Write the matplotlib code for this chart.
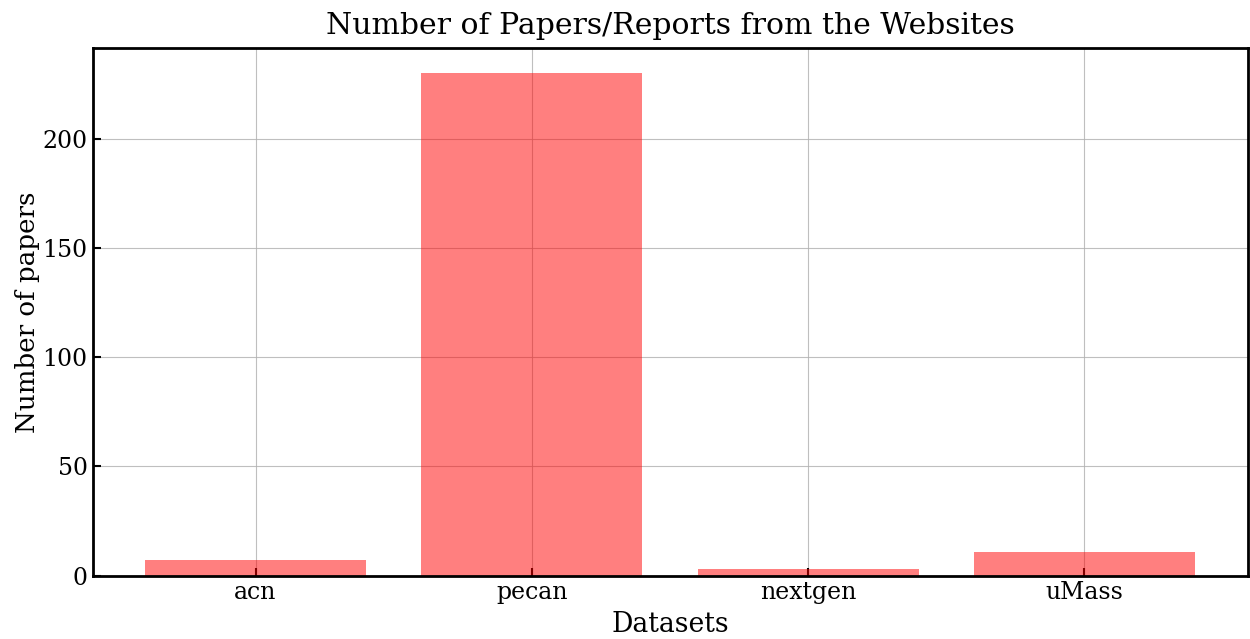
import matplotlib
matplotlib.use("Agg")
import matplotlib.pyplot as plt

datasets = ["acn", "pecan", "nextgen", "uMass"]
paper_counts = [7, 230, 3, 11]

plt.rcParams["font.family"] = "DejaVu Serif"

fig, ax = plt.subplots(figsize=(12.5, 6.39), dpi=100)
fig.subplots_adjust(left=0.074, right=0.998, top=0.925, bottom=0.099)

ax.bar(datasets, paper_counts, color="red", alpha=0.5, zorder=2)
ax.grid(True, color="#b0b0b0", linewidth=0.8, alpha=0.8, zorder=1)
ax.set_axisbelow(True)

ax.set_title("Number of Papers/Reports from the Websites", fontsize=21.5, pad=10)
ax.set_xlabel("Datasets", fontsize=19.2, labelpad=5)
ax.set_ylabel("Number of papers", fontsize=18.8, labelpad=2)
ax.tick_params(direction="in", labelsize=17, length=6, width=1.5)
for s in ax.spines.values():
    s.set_linewidth(2)

fig.savefig("out.png", dpi=100)
